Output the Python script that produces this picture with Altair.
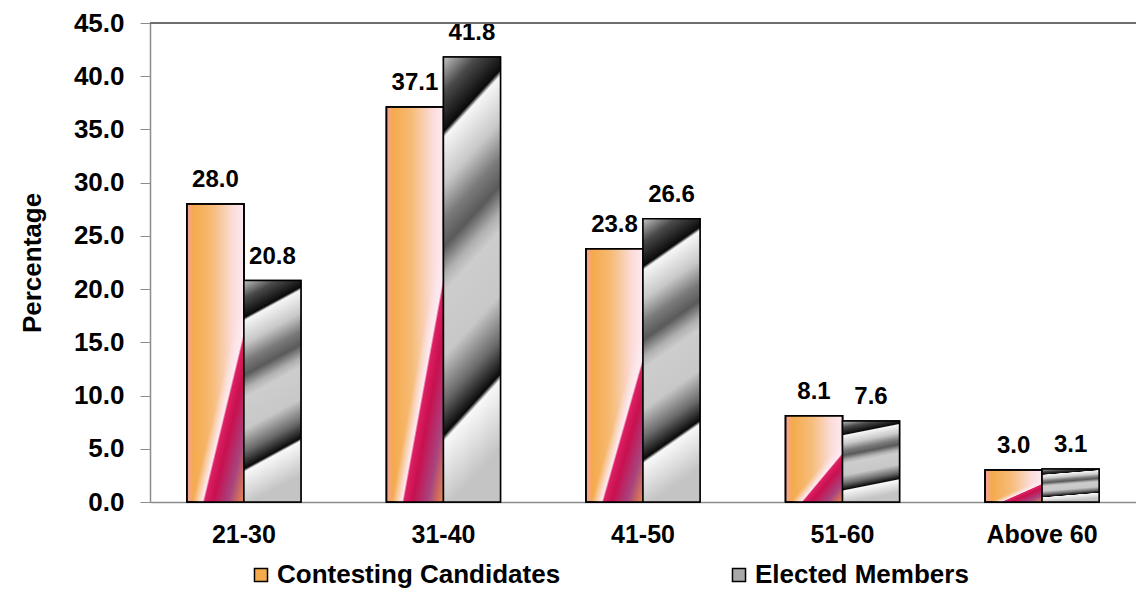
import altair as alt
import pandas as pd

ages = ["21-30", "31-40", "41-50", "51-60", "Above 60"]
contesting = [28.0, 37.1, 23.8, 8.1, 3.0]
elected = [20.8, 41.8, 26.6, 7.6, 3.1]
series_names = ["Contesting Candidates", "Elected Members"]
y_ticks = [0, 5, 10, 15, 20, 25, 30, 35, 40, 45]

rows = []
for a, c, e in zip(ages, contesting, elected):
    rows.append({"age": a, "series": series_names[0], "value": c})
    rows.append({"age": a, "series": series_names[1], "value": e})
df = pd.DataFrame(rows)

FONT = "Liberation Sans"


def stops(pairs):
    return [alt.GradientStop(offset=o, color=c) for o, c in pairs]


grad_contest_h = alt.Gradient(
    gradient="linear", x1=0, y1=0, x2=1, y2=0,
    stops=stops([(0.0, "#F4A3A0"), (0.12, "#F5AA4C"), (0.45, "#F6BC78"),
                 (0.8, "#FBDCD8"), (1.0, "#FDE9F1")]))
grad_contest_d = alt.Gradient(
    gradient="linear", x1=0, y1=0, x2=0.87, y2=1.1,
    stops=stops([(0.0, "rgba(253,232,240,0)"), (0.6, "rgba(253,232,240,0)"),
                 (0.68, "rgba(253,234,241,1)"), (0.695, "#DC1F62"),
                 (0.76, "#C8104F"), (0.88, "#A8437E"), (1.0, "#E8894C")]))
grad_elected = alt.Gradient(
    gradient="linear", x1=0, y1=0, x2=0.14, y2=1,
    stops=stops([(0.0, "#c4c4c4"), (0.08, "#4a4a4a"), (0.165, "#0a0a0a"),
                 (0.178, "#f6f6f6"), (0.28, "#c8c8c8"), (0.36, "#7a7a7a"),
                 (0.42, "#5a5a5a"), (0.48, "#b0b0b0"), (0.52, "#cdcdcd"),
                 (0.66, "#c8c8c8"), (0.76, "#6a6a6a"), (0.835, "#0a0a0a"),
                 (0.848, "#f8f8f8"), (1.0, "#c4c4c4")]))

x = alt.X("age:N", sort=ages, title=None,
          scale=alt.Scale(domain=ages, paddingInner=0.4286, paddingOuter=0.185),
          axis=alt.Axis(labelAngle=0, labelFont=FONT, labelFontWeight="bold",
                        labelFontSize=25, labelColor="black", labelPadding=20,
                        ticks=False, domainColor="#8c8c8c", domainWidth=1.5))
xo = alt.XOffset("series:N", sort=series_names,
                 scale=alt.Scale(domain=series_names, paddingInner=0, paddingOuter=0))
y = alt.Y("value:Q", title="Percentage",
          scale=alt.Scale(domain=[0, 45], nice=False, zero=True),
          axis=alt.Axis(values=y_ticks, format=".1f", grid=False,
                        labelFont=FONT, labelFontWeight="bold", labelFontSize=26,
                        labelColor="black", labelPadding=16, tickSize=10,
                        tickColor="#8c8c8c", domainColor="#8c8c8c", domainWidth=1.5,
                        titleFont=FONT, titleFontWeight="bold", titleFontSize=26,
                        titleColor="black", titlePadding=28))

base = alt.Chart(df)

legend_bars = base.mark_bar(stroke="black", strokeWidth=1.5).encode(
    x=x, xOffset=xo, y=y,
    color=alt.Color("series:N", sort=series_names,
                    scale=alt.Scale(domain=series_names, range=["#F5AA4C", "#A8A8A8"]),
                    legend=alt.Legend(title=None, orient="none", legendX=98, legendY=539,
                                      direction="horizontal", symbolType="square",
                                      symbolSize=170, symbolStrokeColor="black",
                                      symbolStrokeWidth=1.5, symbolOpacity=1,
                                      labelFont=FONT, labelFontSize=26,
                                      labelFontWeight="bold", labelColor="black",
                                      labelLimit=0, labelOffset=3, columnPadding=165)))

contest_h = base.transform_filter(alt.datum.series == series_names[0]).mark_bar(
    color=grad_contest_h, stroke="black", strokeWidth=1.5).encode(x=x, xOffset=xo, y=y)
contest_d = base.transform_filter(alt.datum.series == series_names[0]).mark_bar(
    color=grad_contest_d, stroke="black", strokeWidth=1.5).encode(x=x, xOffset=xo, y=y)
elect = base.transform_filter(alt.datum.series == series_names[1]).mark_bar(
    color=grad_elected, stroke="black", strokeWidth=1.5).encode(x=x, xOffset=xo, y=y)

labels = base.mark_text(dy=-17, baseline="alphabetic", font=FONT, fontSize=24,
                        fontWeight="bold", color="black").encode(
    x=x, xOffset=xo, y=y, text=alt.Text("value:Q", format=".1f"))

top_rule = base.mark_rule(color="#6e6e6e", strokeWidth=2).encode(y=alt.datum(45))

chart = alt.layer(legend_bars, contest_h, contest_d, elect, labels, top_rule).properties(
    width=986, height=479,
    autosize=alt.AutoSizeParams(type="none"),
    padding={"left": 142, "top": 15, "right": 0, "bottom": 92},
).configure_view(strokeWidth=0)

chart.save("out.html", embed_options={"renderer": "svg", "actions": False})
